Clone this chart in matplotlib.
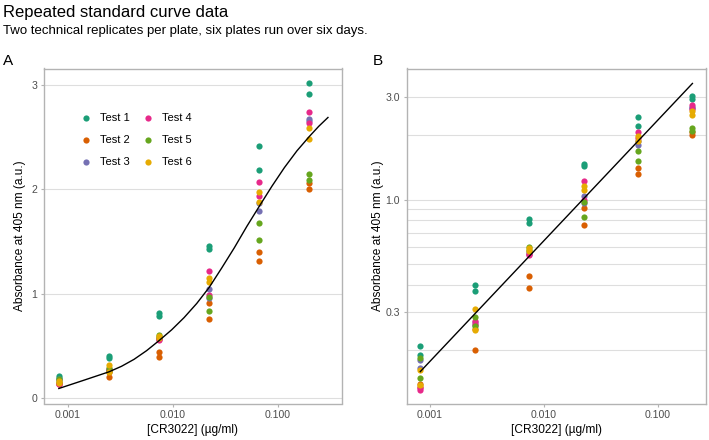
import matplotlib
matplotlib.use("Agg")
import matplotlib.pyplot as plt
from matplotlib.ticker import FixedLocator, NullLocator, NullFormatter

plt.rcParams['font.family'] = ['Liberation Sans', 'DejaVu Sans']

# concentrations of CR3022 (ug/ml), 3-fold dilution series
conc = [0.000823, 0.00247, 0.00741, 0.0222, 0.0667, 0.2]

# absorbance, two replicates per concentration (rep a, rep b)
test1 = [(0.208, 0.190), (0.400, 0.378), (0.810, 0.780), (1.460, 1.430), (2.420, 2.190), (3.020, 2.920)]
test2 = [(0.139, 0.135), (0.250, 0.200), (0.440, 0.390), (0.910, 0.760), (1.400, 1.310), (2.060, 2.000)]
test3 = [(0.180, 0.166), (0.270, 0.262), (0.570, 0.560), (1.040, 0.960), (1.870, 1.790), (2.680, 2.660)]
test4 = [(0.133, 0.130), (0.272, 0.265), (0.560, 0.555), (1.220, 0.990), (2.070, 1.940), (2.740, 2.640)]
test5 = [(0.184, 0.149), (0.286, 0.260), (0.600, 0.585), (0.970, 0.830), (1.680, 1.510), (2.150, 2.090)]
test6 = [(0.161, 0.137), (0.310, 0.248), (0.595, 0.575), (1.150, 1.110), (1.970, 1.880), (2.590, 2.480)]

tests = [test1, test2, test3, test4, test5, test6]
labels = ["Test 1", "Test 2", "Test 3", "Test 4", "Test 5", "Test 6"]
colors = ["#1B9E77", "#D95F02", "#7570B3", "#E7298A", "#66A61E", "#E6AB02"]

# fitted curve
fit_a_x = [0.000823, 0.00143, 0.00247, 0.00325, 0.00428, 0.00563, 0.00741, 0.00975,
           0.0128, 0.0169, 0.0222, 0.0292, 0.0385, 0.0507, 0.0667, 0.0878,
           0.1155, 0.152, 0.2, 0.245, 0.3]
fit_a_y = [0.089, 0.169, 0.249, 0.302, 0.369, 0.452, 0.549, 0.652,
           0.769, 0.905, 1.059, 1.245, 1.439, 1.645, 1.839, 2.030,
           2.209, 2.370, 2.509, 2.605, 2.690]

# fitted line (log-log)
fit_b_x = [0.000823, 0.2]
fit_b_y = [0.159, 3.46]

GRID = "#DEDEDE"
BORDER = "#B3B3B3"
TICKLAB = "#4D4D4D"

fig = plt.figure(figsize=(7.09, 4.40), dpi=100)
axA = fig.add_axes([44 / 709, 1 - 403.5 / 440, 297.5 / 709, 335 / 440])
axB = fig.add_axes([406.7 / 709, 1 - 403.5 / 440, 299.3 / 709, 335 / 440])


def style(ax, ypad):
    ax.set_xscale('log')
    for s in ax.spines.values():
        s.set_color(BORDER)
        s.set_linewidth(1.0)
    ax.tick_params(axis='both', which='major', length=2.5, width=0.8, color=BORDER,
                   labelcolor=TICKLAB, labelsize=7.6, pad=2.5)
    ax.tick_params(axis='both', which='minor', length=0)
    ax.set_xticks([0.001, 0.01, 0.1])
    ax.set_xticklabels(["0.001", "0.010", "0.100"])
    ax.xaxis.set_minor_locator(NullLocator())
    ax.set_axisbelow(True)
    ax.set_xlabel("[CR3022] (µg/ml)", fontsize=8.6, labelpad=2.5)
    ax.set_ylabel("Absorbance at 405 nm (a.u.)", fontsize=8.6, labelpad=ypad)


def points(ax):
    for vals, lab, col in zip(tests, labels, colors):
        xs, ys = [], []
        for c, pair in zip(conc, vals):
            for v in pair:
                xs.append(c)
                ys.append(v)
        ax.scatter(xs, ys, s=20, color=col, linewidths=0, label=lab, zorder=3)


# panel A
style(axA, 3.5)
points(axA)
axA.plot(fit_a_x, fit_a_y, color="black", lw=1.0, zorder=4)
axA.set_xlim(10 ** -3.226, 10 ** -0.394)
axA.set_ylim(-0.055, 3.16)
axA.set_yticks([0, 1, 2, 3])
axA.set_yticklabels(["0", "1", "2", "3"])
axA.yaxis.grid(True, color=GRID, lw=0.8)
leg = axA.legend(loc='center', bbox_to_anchor=(0.31, 0.786), ncol=2, frameon=False,
                 fontsize=8, handlelength=1.0, handletextpad=0.75, columnspacing=1.1,
                 labelspacing=1.1, scatterpoints=1, markerscale=1.0)

# panel B
style(axB, 1)
points(axB)
axB.plot(fit_b_x, fit_b_y, color="black", lw=1.0, zorder=4)
axB.set_yscale('log')
axB.set_xlim(10 ** -3.204, 10 ** -0.580)
axB.set_ylim(0.113, 4.06)
axB.yaxis.set_major_locator(FixedLocator([0.3, 1.0, 3.0]))
axB.set_yticklabels(["0.3", "1.0", "3.0"])
axB.yaxis.set_minor_locator(FixedLocator([0.2, 0.4, 0.5, 0.6, 0.7, 0.8, 0.9, 2.0]))
axB.yaxis.set_minor_formatter(NullFormatter())
axB.yaxis.grid(True, which='both', color=GRID, lw=0.8)

# titles and tags
fig.text(3 / 709, 1 - 12 / 440, "Repeated standard curve data", fontsize=12, va='center', ha='left')
fig.text(3 / 709, 1 - 31 / 440, "Two technical replicates per plate, six plates run over six days.",
         fontsize=9.5, va='center', ha='left')
fig.text(3 / 709, 1 - 61 / 440, "A", fontsize=11, va='center', ha='left')
fig.text(373 / 709, 1 - 61 / 440, "B", fontsize=11, va='center', ha='left')

fig.savefig("out.png", dpi=100)
